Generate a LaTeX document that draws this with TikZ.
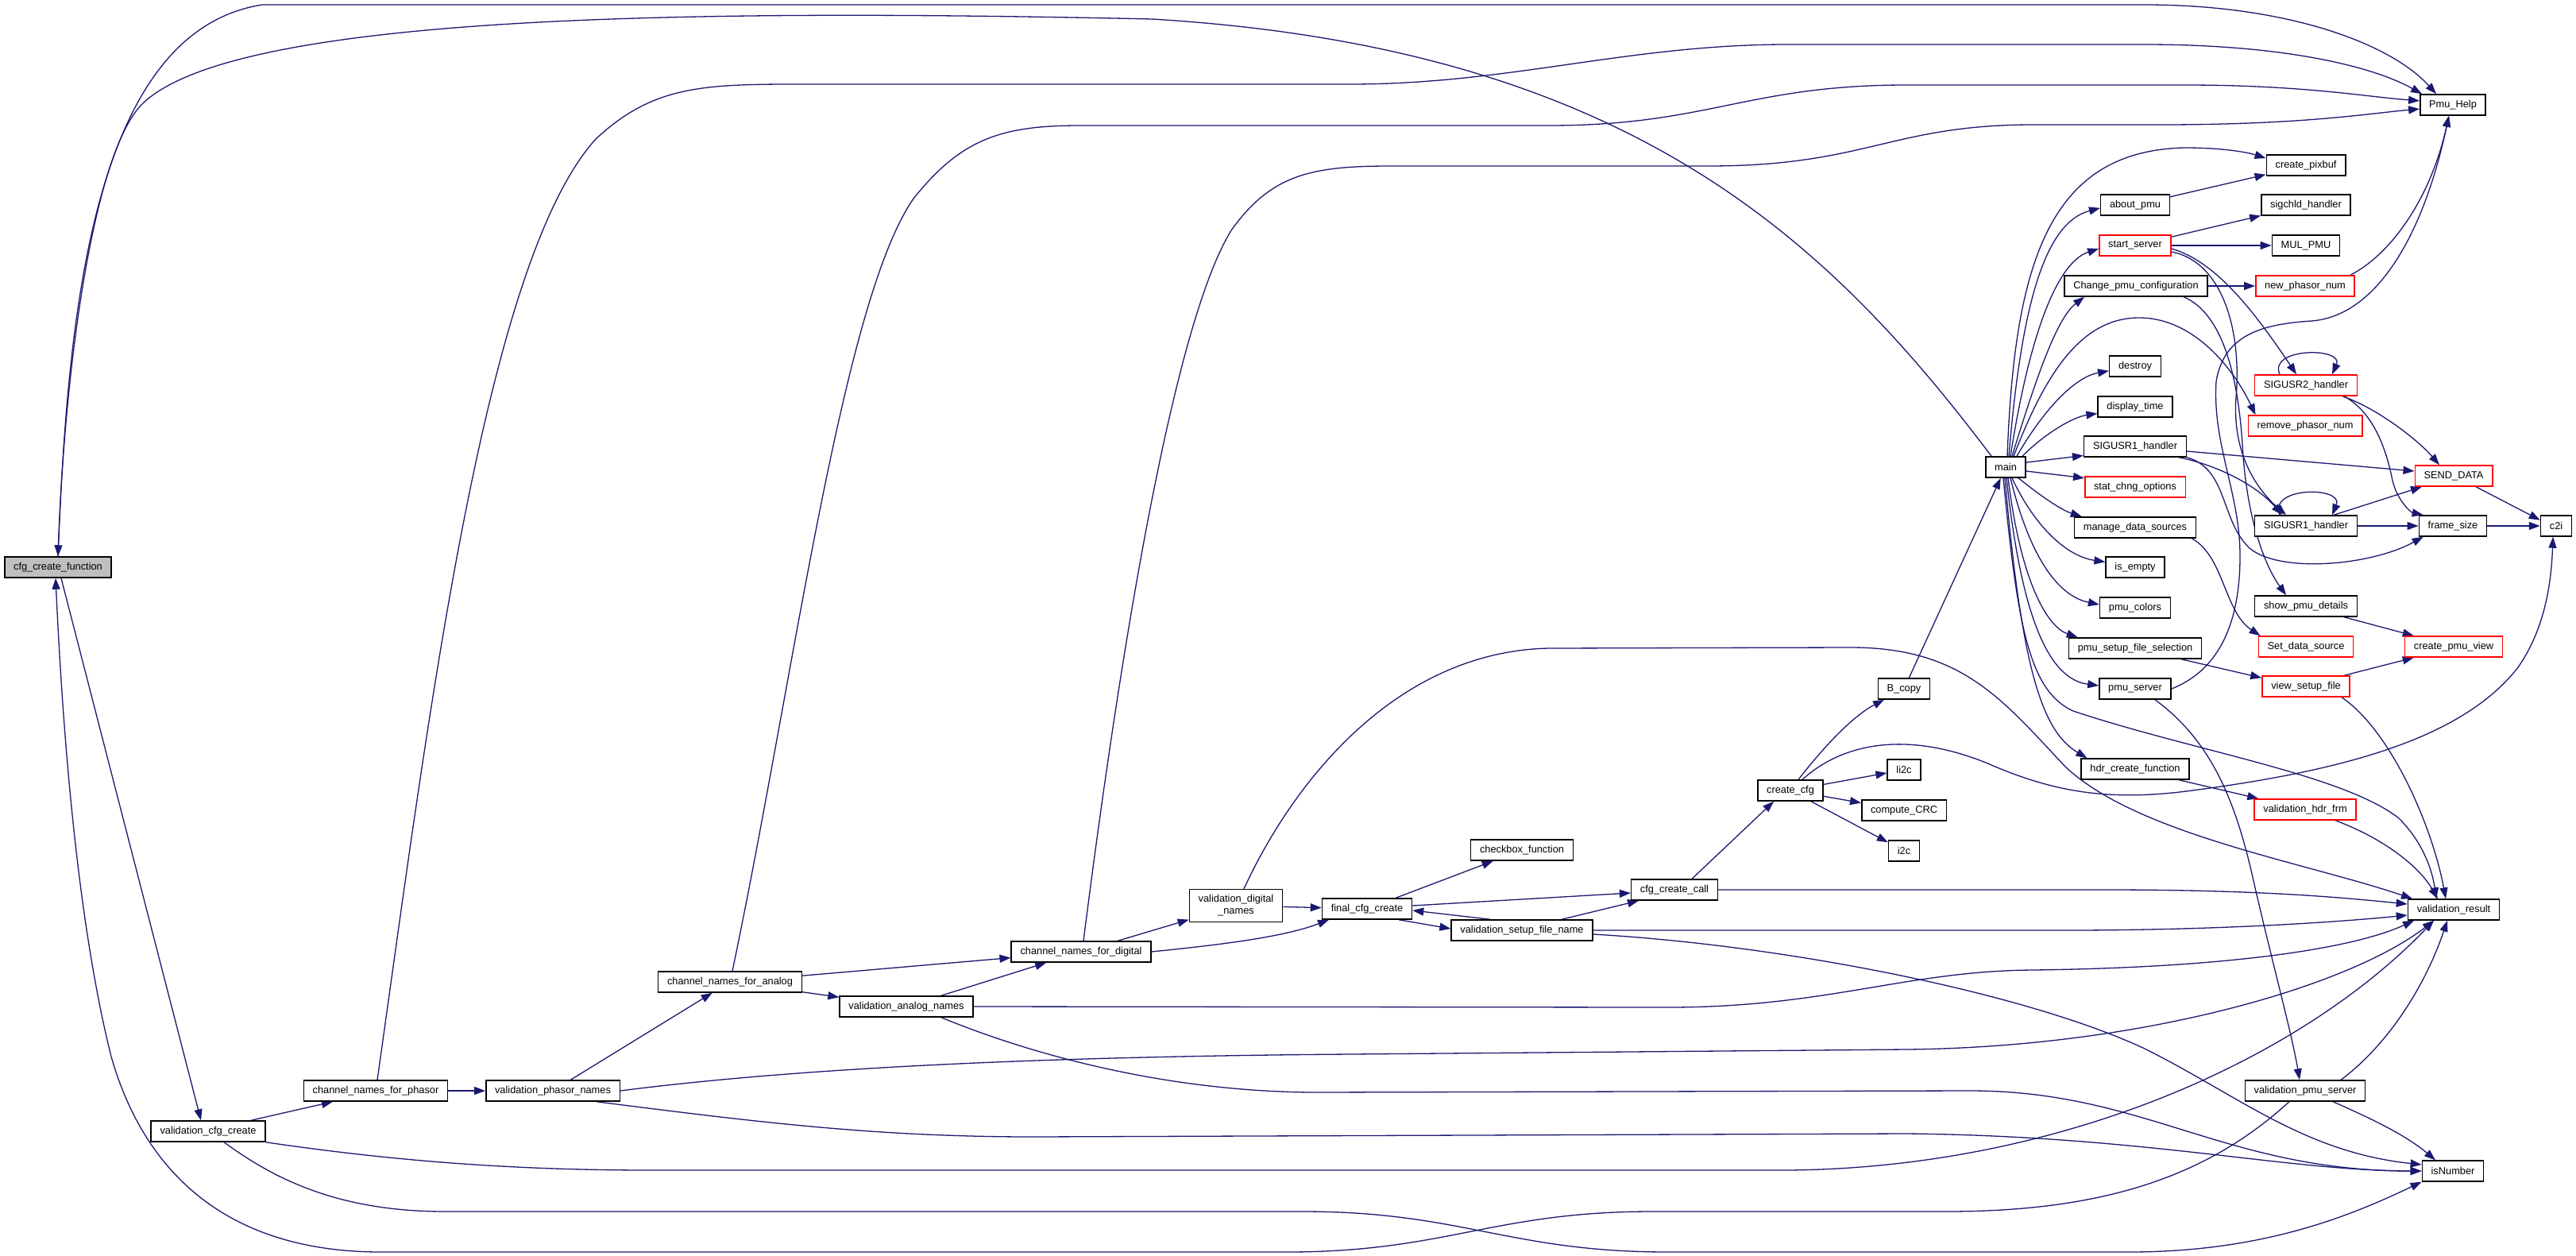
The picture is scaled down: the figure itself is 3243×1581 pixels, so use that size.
\documentclass[tikz,border=0pt]{standalone}
\usepackage{fontspec}
\setmainfont{Liberation Sans}
\usepackage{xcolor}
\usetikzlibrary{arrows.meta}
\definecolor{edgeblue}{HTML}{191970}
\definecolor{rootgray}{HTML}{BFBFBF}
\definecolor{bordred}{HTML}{FF0000}
\pgfdeclarelayer{edges}
\pgfsetlayers{edges,main}

\begin{document}
\begin{tikzpicture}[x=1bp, y=-1bp,
  fn/.style={rectangle, draw=black, line width=1.5bp, fill=white, inner xsep=11.3bp, inner ysep=2bp, minimum height=26bp, align=center, font=\fontsize{12.85pt}{15pt}\selectfont},
  fnred/.style={fn, draw=bordred},
  fnroot/.style={fn, fill=rootgray},
  call/.style={draw=edgeblue, line width=1.3bp, -{Triangle[length=14bp, width=10bp]}}]

\useasboundingbox (0,0) rectangle (3243,1581);

\node[fnroot] (cfgfn) at (73,714) {cfg\_create\_function};
\node[fn] (valcfg) at (262,1424) {validation\_cfg\_create};
\node[fn] (chphasor) at (473,1373) {channel\_names\_for\_phasor};
\node[fn] (valphasor) at (696,1373) {validation\_phasor\_names};
\node[fn] (chanalog) at (919,1236) {channel\_names\_for\_analog};
\node[fn] (valanalog) at (1141,1267) {validation\_analog\_names};
\node[fn] (chdigital) at (1361,1198) {channel\_names\_for\_digital};
\node[fn, minimum height=41bp] (valdigital) at (1556,1140) {validation\_digital\\\_names};
\node[fn] (finalcfg) at (1721,1144) {final\_cfg\_create};
\node[fn] (checkbox) at (1916,1070) {checkbox\_function};
\node[fn] (valsetup) at (1916,1171) {validation\_setup\_file\_name};
\node[fn] (cfgcall) at (2108,1120) {cfg\_create\_call};
\node[fn] (createcfg) at (2254,995) {create\_cfg};
\node[fn] (bcopy) at (2397,867) {B\_copy};
\node[fn] (litoc) at (2397,969) {li2c};
\node[fn] (crc) at (2397,1020) {compute\_CRC};
\node[fn] (itoc) at (2397,1071) {i2c};
\node[fn] (main) at (2525,588) {main};
\node[fn] (pmuhelp) at (3088,132) {Pmu\_Help};
\node[fn] (pixbuf) at (2903,208) {create\_pixbuf};
\node[fn] (aboutpmu) at (2688,258) {about\_pmu};
\node[fn] (sigchld) at (2903,258) {sigchld\_handler};
\node[fnred] (startsrv) at (2688,309) {start\_server};
\node[fn] (mulpmu) at (2903,309) {MUL\_PMU};
\node[fn] (changecfg) at (2689,360) {Change\_pmu\_configuration};
\node[fnred] (newphasor) at (2902,360) {new\_phasor\_num};
\node[fn] (destroy) at (2688,461) {destroy};
\node[fn] (disptime) at (2688,512) {display\_time};
\node[fnred] (sigtwo) at (2903,485) {SIGUSR2\_handler};
\node[fnred] (rmphasor) at (2902,536) {remove\_phasor\_num};
\node[fn] (sigoneA) at (2688,562) {SIGUSR1\_handler};
\node[fnred] (statchng) at (2688,613) {stat\_chng\_options};
\node[fnred] (senddata) at (3089,599) {SEND\_DATA};
\node[fn] (managesrc) at (2688,664) {manage\_data\_sources};
\node[fn] (sigoneB) at (2903,662) {SIGUSR1\_handler};
\node[fn] (framesize) at (3088,662) {frame\_size};
\node[fn] (ctoi) at (3218,662) {c2i};
\node[fn] (isempty) at (2688,714) {is\_empty};
\node[fn] (pmucolors) at (2688,765) {pmu\_colors};
\node[fn] (showpmu) at (2903,763) {show\_pmu\_details};
\node[fn] (setupsel) at (2688,816) {pmu\_setup\_file\_selection};
\node[fnred] (setsrc) at (2903,814) {Set\_data\_source};
\node[fnred] (pmuview) at (3089,814) {create\_pmu\_view};
\node[fn] (pmusrv) at (2688,867) {pmu\_server};
\node[fnred] (viewsetup) at (2903,864) {view\_setup\_file};
\node[fn] (hdrfn) at (2688,968) {hdr\_create\_function};
\node[fnred] (valhdr) at (2902,1019) {validation\_hdr\_frm};
\node[fn] (valresult) at (3089,1145) {validation\_result};
\node[fn] (valpmusrv) at (2902,1373) {validation\_pmu\_server};
\node[fn] (isnumber) at (3088,1474) {isNumber};

\begin{pgfonlayer}{edges}
\draw[call] (cfgfn.north) .. controls (85,400) and (115,40) .. (330,6) -- (2700,6) .. controls (2880,6) and (3010,55) .. ([xshift=-21bp]pmuhelp.north);
\draw[call] ([xshift=4bp]cfgfn.south) -- ([xshift=-9bp]valcfg.north);
\draw[call] ([xshift=-20bp]valpmusrv.south) .. controls (2780,1480) and (2650,1525) .. (2450,1525) -- (2080,1525) .. controls (1880,1525) and (1820,1576) .. (1620,1576) -- (480,1576) .. controls (280,1576) and (180,1470) .. (140,1330) .. controls (95,1150) and (78,900) .. ([xshift=-3bp]cfgfn.south);
\draw[call] ([xshift=20bp]valcfg.south) .. controls (340,1480) and (420,1525) .. (560,1525) -- (1640,1525) .. controls (1840,1525) and (1900,1576) .. (2100,1576) -- (2680,1576) .. controls (2850,1576) and (2960,1530) .. (isnumber.south west);
\draw[call] ([xshift=54bp]valcfg.north) -- ([xshift=-54bp]chphasor.south);
\draw[call] (valcfg.south east) .. controls (500,1462) and (650,1473) .. (820,1473) -- (2250,1473) .. controls (2600,1470) and (2900,1330) .. ([xshift=-25bp]valresult.south);

\draw[call] (chphasor) -- (valphasor);
\draw[call] ([xshift=2bp]chphasor.north) .. controls (540,900) and (610,330) .. (750,175) .. controls (820,110) and (880,106) .. (1000,106) -- (1700,106) .. controls (1900,106) and (2050,56) .. (2250,56) -- (2700,56) .. controls (2880,56) and (2990,85) .. ([xshift=3bp]pmuhelp.north west);
\draw[call] (valphasor) -- (chanalog);
\draw[call] (valphasor.east) .. controls (1000,1345) and (1300,1330) .. (1700,1327) -- (2400,1321) .. controls (2700,1318) and (2960,1240) .. ([xshift=-25bp]valresult.south);
\draw[call] ([xshift=55bp]valphasor.south) .. controls (950,1412) and (1100,1431) .. (1300,1431) -- (2400,1427) .. controls (2700,1430) and (2880,1474) .. (isnumber.west);

\draw[call] ([xshift=3bp]chanalog.north) .. controls (1000,850) and (1060,380) .. (1150,250) .. controls (1210,175) and (1260,158) .. (1360,158) -- (1950,158) .. controls (2150,158) and (2200,107) .. (2400,107) -- (2750,107) .. controls (2900,107) and (2980,122) .. (pmuhelp.173);
\draw[call] (chanalog) -- (chdigital);
\draw[call] (chanalog) -- (valanalog);
\draw[call] (valanalog) -- (chdigital);
\draw[call] (valanalog.east) -- (2100,1268) .. controls (2300,1268) and (2400,1222) .. (2560,1221) .. controls (2800,1218) and (2960,1195) .. ([xshift=-50bp]valresult.south);
\draw[call] ([xshift=44bp]valanalog.south) .. controls (1280,1320) and (1450,1373) .. (1650,1375) -- (2480,1373) .. controls (2700,1373) and (2800,1474) .. (isnumber.west);

\draw[call] ([xshift=3bp]chdigital.north) .. controls (1400,900) and (1470,420) .. (1550,290) .. controls (1600,220) and (1650,209) .. (1750,209) -- (2150,209) .. controls (2350,209) and (2380,157) .. (2560,157) -- (2720,157) .. controls (2900,157) and (2980,143) .. (pmuhelp.187);
\draw[call] (chdigital) -- (valdigital);
\draw[call] (chdigital.east) .. controls (1550,1188) and (1620,1178) .. ([xshift=-48bp]finalcfg.south);
\draw[call] (valdigital) -- (finalcfg);
\draw[call] ([xshift=10bp]valdigital.north) .. controls (1630,980) and (1760,820) .. (1950,816) -- (2330,815) .. controls (2470,815) and (2520,880) .. (2600,965) .. controls (2690,1050) and (2900,1085) .. ([xshift=-52bp]valresult.north);

\draw[call] (finalcfg) -- (checkbox);
\draw[call] ([xshift=40bp]finalcfg.south) -- ([yshift=2bp]valsetup.west);
\draw[call] ([xshift=-40bp]valsetup.north) -- ([yshift=-2bp]finalcfg.east);
\draw[call] ([yshift=4bp]finalcfg.east) -- ([yshift=-4bp]cfgcall.west);
\draw[call] ([xshift=50bp]valsetup.north) -- ([xshift=-45bp]cfgcall.south);
\draw[call] (valsetup.east) -- (2600,1171) .. controls (2800,1171) and (2950,1160) .. ([yshift=-7bp]valresult.west);
\draw[call] ([yshift=-5bp]valsetup.east) .. controls (2250,1190) and (2550,1250) .. (2700,1320) .. controls (2820,1380) and (2900,1450) .. ([yshift=8bp]isnumber.west);
\draw[call] ([xshift=22bp]cfgcall.north) -- ([xshift=-21bp]createcfg.south);
\draw[call] (cfgcall.east) -- (2650,1120) .. controls (2850,1120) and (2950,1130) .. ([yshift=7bp]valresult.west);

\draw[call] ([xshift=10bp]createcfg.north) .. controls (2300,935) and (2335,900) .. ([xshift=-25bp]bcopy.south);
\draw[call] (createcfg) -- (litoc);
\draw[call] (createcfg) -- (crc);
\draw[call] (createcfg) -- (itoc);
\draw[call] ([xshift=15bp]createcfg.north) .. controls (2320,935) and (2400,920) .. (2500,960) .. controls (2580,995) and (2650,1010) .. (2760,995) .. controls (2950,970) and (3100,930) .. (3170,840) .. controls (3205,790) and (3212,730) .. ([xshift=-4bp]ctoi.south);
\draw[call] (bcopy) -- (main);

\draw[call] ([xshift=8bp]main.north west) .. controls (2300,300) and (2050,60) .. (1450,24) .. controls (900,12) and (300,15) .. (180,130) .. controls (120,187) and (82,450) .. (cfgfn.north);
\draw[call] ([xshift=2bp]main.north) .. controls (2536,330) and (2580,190) .. (2750,186) .. controls (2800,186) and (2830,192) .. (pixbuf.170);
\draw[call] ([xshift=4bp]main.north) .. controls (2545,380) and (2575,280) .. (aboutpmu.185);
\draw[call] ([xshift=6bp]main.north) .. controls (2555,420) and (2590,330) .. (startsrv.185);
\draw[call] ([xshift=8bp]main.north) .. controls (2565,470) and (2590,400) .. ([xshift=-65bp]changecfg.south);
\draw[call] ([xshift=10bp]main.north) .. controls (2575,470) and (2620,400) .. (2693,400) .. controls (2765,400) and (2815,470) .. ([xshift=10bp]rmphasor.north west);
\draw[call] ([xshift=14bp]main.north) .. controls (2570,520) and (2610,475) .. (destroy.190);
\draw[call] ([xshift=-5bp]main.north east) .. controls (2575,545) and (2610,525) .. (disptime.190);
\draw[call] ([yshift=6bp]main.east) -- (sigoneA.190);
\draw[call] ([yshift=-5bp]main.east) -- (statchng.170);
\draw[call] ([xshift=-10bp]main.south east) .. controls (2570,625) and (2595,642) .. ([xshift=10bp]managesrc.north west);
\draw[call] ([xshift=8bp]main.south) .. controls (2560,660) and (2600,700) .. (isempty.170);
\draw[call] ([xshift=6bp]main.south) .. controls (2555,700) and (2590,750) .. (pmucolors.175);
\draw[call] ([xshift=3bp]main.south) .. controls (2545,740) and (2580,790) .. ([xshift=12bp]setupsel.north west);
\draw[call] ([xshift=1bp]main.south) .. controls (2545,780) and (2580,855) .. (pmusrv.175);
\draw[call] ([xshift=-1bp]main.south) .. controls (2545,840) and (2570,920) .. ([xshift=8bp]hdrfn.north west);
\draw[call] ([xshift=-3bp]main.south) .. controls (2540,790) and (2555,870) .. (2610,895) .. controls (2760,945) and (2950,975) .. (3020,1030) .. controls (3050,1060) and (3062,1095) .. ([xshift=-22bp]valresult.north);

\draw[call] (aboutpmu) -- (pixbuf);
\draw[call] (startsrv) -- (sigchld);
\draw[call] (startsrv) -- (mulpmu);
\draw[call] ([yshift=-4bp]startsrv.east) .. controls (2785,328) and (2830,380) .. ([xshift=-12bp]sigtwo.north);
\draw[call] ([yshift=-8bp]startsrv.east) .. controls (2800,330) and (2822,420) .. (2815,500) .. controls (2810,570) and (2840,615) .. ([xshift=-25bp]sigoneB.north);
\draw[call] (changecfg) -- (newphasor);
\draw[call] ([xshift=60bp]changecfg.south) .. controls (2800,395) and (2818,480) .. (2823,560) .. controls (2828,650) and (2850,710) .. ([xshift=-25bp]showpmu.north);
\draw[call] ([xshift=-6bp]newphasor.north east) .. controls (3010,320) and (3060,250) .. ([xshift=-5bp]pmuhelp.south);
\draw[call] (pmusrv.east) .. controls (2790,845) and (2820,790) .. (2820,700) .. controls (2820,620) and (2785,560) .. (2790,480) .. controls (2800,420) and (2850,408) .. (2910,404) .. controls (2990,398) and (3050,300) .. ([xshift=-5bp]pmuhelp.south);

\draw[call] ([xshift=-33bp]sigtwo.north) .. controls (2855,437) and (2951,437) .. ([xshift=33bp]sigtwo.north);
\draw[call] ([xshift=46bp]sigtwo.south) .. controls (2995,515) and (3045,555) .. ([xshift=-18bp]senddata.north);
\draw[call] ([xshift=48bp]sigtwo.south) .. controls (2990,520) and (3005,570) .. (3012,605) .. controls (3018,630) and (3035,645) .. ([xshift=6bp]framesize.north west);
\draw[call] ([yshift=-6bp]sigoneA.east) -- ([yshift=6bp]senddata.west);
\draw[call] ([xshift=55bp]sigoneA.south) .. controls (2790,585) and (2840,610) .. ([xshift=-30bp]sigoneB.north);
\draw[call] (sigoneA.south east) .. controls (2805,590) and (2795,655) .. (2832,690) .. controls (2870,722) and (2985,712) .. ([xshift=6bp]framesize.south west);
\draw[call] ([xshift=-33bp]sigoneB.north) .. controls (2855,612) and (2951,612) .. ([xshift=33bp]sigoneB.north);
\draw[call] ([xshift=35bp]sigoneB.north) -- ([xshift=-40bp]senddata.south);
\draw[call] (sigoneB) -- (framesize);
\draw[call] ([xshift=28bp]senddata.south) -- (ctoi.160);
\draw[call] (framesize) -- (ctoi);

\draw[call] ([xshift=-6bp]managesrc.south east) .. controls (2800,700) and (2800,770) .. ([xshift=3bp]setsrc.north west);
\draw[call] ([xshift=48bp]showpmu.south) -- ([xshift=12bp]pmuview.north west);
\draw[call] ([xshift=48bp]viewsetup.north) -- ([xshift=12bp]pmuview.south west);
\draw[call] ([xshift=58bp]setupsel.south) -- ([yshift=-3bp]viewsetup.north west);
\draw[call] ([xshift=45bp]viewsetup.south) .. controls (3010,920) and (3062,1040) .. ([xshift=-10bp]valresult.north);
\draw[call] ([xshift=55bp]hdrfn.south) -- ([xshift=6bp]valhdr.north west);
\draw[call] ([xshift=38bp]valhdr.south) .. controls (3000,1055) and (3045,1090) .. ([xshift=-20bp]valresult.north);
\draw[call] ([xshift=25bp]pmusrv.south) .. controls (2780,930) and (2812,1000) .. (2835,1100) .. controls (2860,1210) and (2885,1300) .. ([xshift=-7bp]valpmusrv.north);
\draw[call] ([xshift=45bp]valpmusrv.north) .. controls (3000,1320) and (3050,1250) .. ([xshift=-8bp]valresult.south);
\draw[call] ([xshift=35bp]valpmusrv.south) .. controls (2990,1410) and (3030,1430) .. ([xshift=-22bp]isnumber.north);
\end{pgfonlayer}
\end{tikzpicture}
\end{document}
